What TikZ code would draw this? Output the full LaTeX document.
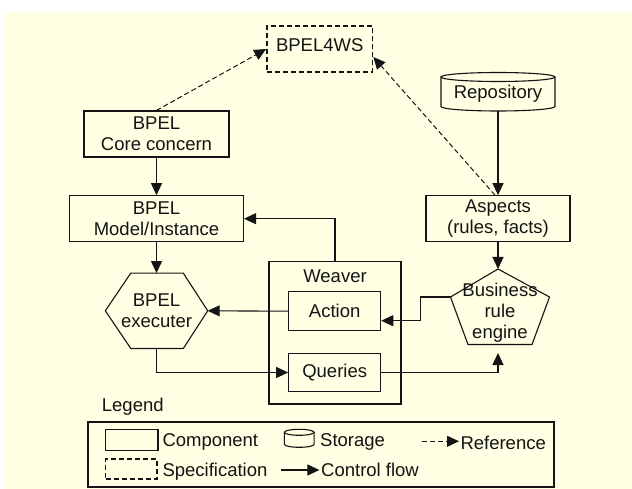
\documentclass[tikz,border=0pt]{standalone}
\usepackage{fontspec}
\setmainfont{Liberation Sans}
\usetikzlibrary{arrows.meta,calc}
\definecolor{cream}{RGB}{255,255,228}
\definecolor{linec}{RGB}{20,20,20}
\begin{document}
\begin{tikzpicture}[x=1pt,y=-1pt,
  every node/.style={font=\fontsize{18.5}{21}\selectfont, inner sep=0pt, align=center, text=linec},
  comp/.style={draw=linec, line width=1.1pt},
  spec/.style={draw=linec, line width=1.7pt, dash pattern=on 5pt off 3pt},
  outline/.style={draw=linec, line width=1.1pt},
  flow/.style={draw=linec, line width=1.1pt, -{Triangle[length=12pt,width=11pt]}},
  ref/.style={draw=linec, line width=1pt, dash pattern=on 5pt off 3pt, -{Triangle[length=12pt,width=11pt]}}]

% page and background
\fill[white] (0,0) rectangle (632,489);
\fill[cream] (6,12) rectangle (632,489);
\useasboundingbox (0,0) rectangle (632,489);

% specification
\node[spec, minimum width=105.5pt, minimum height=46pt, text height=13.2pt, text depth=8pt] (bpelws) at (319.75,49) {BPEL4WS};

% components
\node[comp, minimum width=145pt, minimum height=46pt] (core) at (156.5,134) {BPEL\\Core concern};
\node[comp, minimum width=174pt, minimum height=46pt] (model) at (156.5,218.7) {BPEL\\Model/Instance};
\node[comp, minimum width=144pt, minimum height=46pt] (aspects) at (498,218.7) {Aspects\\(rules, facts)};

% repository (storage cylinder)
\node[minimum width=114pt, minimum height=34pt] (repo) at (498,94) {Repository};
\draw[outline] (498,77) ellipse [x radius=57, y radius=4.5];
\draw[outline] (441,77) -- (441,106.5) arc [start angle=180, end angle=0, x radius=57, y radius=4.5] -- (555,77);

% weaver with its two parts
\node[comp, minimum width=132pt, minimum height=142.3pt] (weaver) at (335,332.85) {};
\node (weavertitle) at (335,276) {Weaver};
\node[comp, minimum width=92pt, minimum height=39pt] (action) at (334.7,311.2) {Action};
\node[comp, minimum width=92pt, minimum height=38.4pt] (queries) at (334.7,372.5) {Queries};

% executer hexagon
\node[minimum width=102pt, minimum height=75pt] (exec) at (156.5,310.8) {BPEL\\executer};
\draw[outline] ($(exec.north west)+(25.5,0)$) -- ($(exec.north east)+(-24.4,0)$) -- (exec.east)
  -- ($(exec.south east)+(-24.4,0)$) -- ($(exec.south west)+(25.5,0)$) -- (exec.west) -- cycle;

% rule engine pentagon
\coordinate (ptop) at (498,269);
\coordinate (pright) at (549.5,297);
\coordinate (pbr) at (532,344.5);
\coordinate (pbl) at (468,344.5);
\coordinate (pleft) at (450.5,297);
\draw[outline] (ptop) -- (pright) -- (pbr) -- (pbl) -- (pleft) -- cycle;
\node (bre) at (500,312.5) {Business\\rule\\engine};
\coordinate (brein) at (498,353);

% control flow
\draw[flow] (core.south) -- (model.north);
\draw[flow] (model.south) -- (exec.north);
\draw[flow] (weaver.north) |- (model.east);
\draw[flow] (repo.south) -- (aspects.north);
\draw[flow] (aspects.south) -- (ptop);
\draw[flow] (action.west) -- (exec.east);
\draw[flow] (exec.south) |- (queries.west);
\draw[flow] (queries.east) -| (brein);
\draw[flow] (pleft) -- ++(-30,0) |- ([yshift=-9.5pt]action.east);

% references
\draw[ref] (core.north) -- (bpelws.west);
\draw[ref] ([xshift=-3pt]aspects.north) -- ([yshift=-8pt]bpelws.east);

% legend
\node[anchor=base west] (legendtitle) at (101.7,411.6) {Legend};
\node[comp, minimum width=466pt, minimum height=65pt] (legend) at (321,454.5) {};
\node[comp, minimum width=52.5pt, minimum height=21.4pt] (lgcomp) at (131.75,440) {};
\node[anchor=base west] (lgcomptext) at (162.3,446.6) {Component};
\draw[outline] (299.2,432.3) ellipse [x radius=14.85, y radius=3];
\draw[outline] (284.35,432.3) -- (284.35,444.3) arc [start angle=180, end angle=0, x radius=14.85, y radius=3] -- (314.05,432.3);
\node[anchor=base west] (lgstoretext) at (320,446.6) {Storage};
\coordinate (lgrefa) at (421.7,441.3);
\coordinate (lgrefb) at (459,441.3);
\draw[ref] (lgrefa) -- (lgrefb);
\node[anchor=base west] (lgreftext) at (460.3,449.9) {Reference};
\node[spec, minimum width=51.5pt, minimum height=19.4pt] (lgspec) at (131.25,469) {};
\node[anchor=base west] (lgspectext) at (162.3,476.6) {Specification};
\coordinate (lgflowa) at (280.7,470);
\coordinate (lgflowb) at (319.4,470);
\draw[flow] (lgflowa) -- (lgflowb);
\node[anchor=base west] (lgflowtext) at (321,476.6) {Control flow};
\end{tikzpicture}
\end{document}
